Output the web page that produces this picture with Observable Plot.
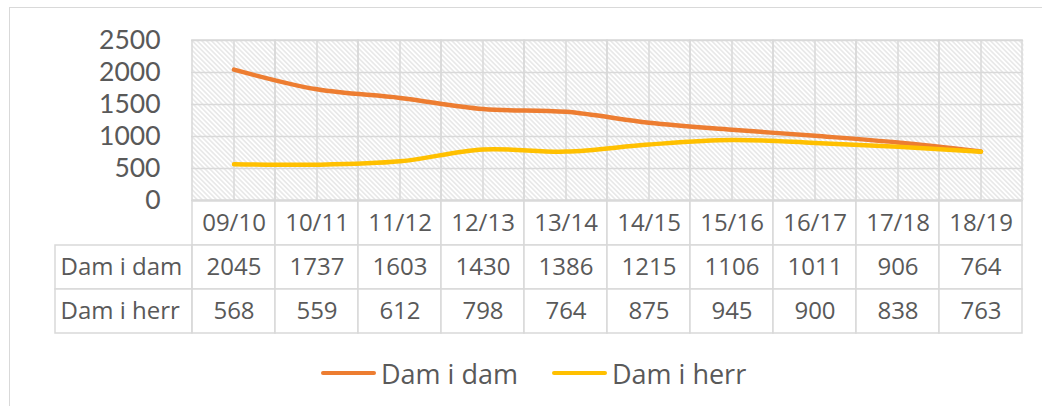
<!DOCTYPE html>
<html>
<head>
<meta charset="utf-8">
<script src="https://cdn.jsdelivr.net/npm/d3@7"></script>
<script src="https://cdn.jsdelivr.net/npm/@observablehq/plot@0.6"></script>
<style>
  html, body { margin: 0; padding: 0; background: #fff; }
  #wrap { position: relative; width: 1042px; height: 406px; overflow: hidden; font-family: "Open Sans", sans-serif; color: #595959; }
  #border { position: absolute; left: 9px; top: 7px; width: 1100px; height: 500px; border: 1.5px solid #d9d9d9; box-sizing: border-box; }
  #chart { position: absolute; left: 0; top: 0; }
  #table { position: absolute; left: 0; top: 199px; }
  #legend { position: absolute; left: 321px; top: 355px; height: 36px; display: flex; align-items: center; font-size: 27px; white-space: nowrap; }
  .sw { display: inline-block; width: 55px; height: 4.5px; border-radius: 2.5px; margin-right: 5px; }
  .item { display: flex; align-items: center; margin-right: 34px; }
</style>
</head>
<body>
<div id="wrap">
  <div id="border"></div>
  <div id="chart"></div>
  <div id="table"></div>
  <div id="legend"></div>
</div>
<script>
const categories = ["09/10", "10/11", "11/12", "12/13", "13/14", "14/15", "15/16", "16/17", "17/18", "18/19"];
const damIDam = [2045, 1737, 1603, 1430, 1386, 1215, 1106, 1011, 906, 764];
const damIHerr = [568, 559, 612, 798, 764, 875, 945, 900, 838, 763];
const seriesNames = ["Dam i dam", "Dam i herr"];
const seriesColors = ["#ED7D31", "#FFC000"];
const yTicks = [0, 500, 1000, 1500, 2000, 2500];

const W = 1042, ML = 191, MR = 19;
const grid = "#d9d9d9";
const textColor = "#595959";
const seriesValues = [damIDam, damIHerr];

const long = seriesNames.flatMap((s, k) =>
  categories.map((c, i) => ({ cat: c, series: s, value: seriesValues[k][i] }))
);

const chart = Plot.plot({
  width: W, height: 202,
  marginTop: 40, marginBottom: 2, marginLeft: ML, marginRight: MR,
  style: { fontFamily: "Open Sans", background: "transparent", overflow: "visible", color: textColor },
  x: { type: "band", domain: categories, padding: 0, axis: null },
  y: { domain: [0, 2500], axis: null },
  color: { domain: seriesNames, range: seriesColors },
  marks: [
    Plot.frame({ fill: "url(#hatch)", stroke: "none" }),
    Plot.cell(categories, { x: d => d, fill: "none", stroke: grid, strokeWidth: 1.5 }),
    Plot.ruleX(categories, { x: d => d, stroke: grid, strokeWidth: 1.5 }),
    Plot.ruleY(yTicks, { y: d => d, stroke: grid, strokeWidth: 1.5 }),
    Plot.axisY({ ticks: yTicks, tickSize: 0, tickPadding: 31, fontSize: 26.5, fontFamily: "Lato", fill: textColor, label: null, tickFormat: d => String(d) }),
    Plot.line(long, { x: "cat", y: "value", z: "series", stroke: "series", curve: "catmull-rom", strokeWidth: 4.5, strokeLinecap: "round", strokeLinejoin: "round" })
  ]
});

d3.select(chart).insert("defs", ":first-child").html(
  `<pattern id="hatch" patternUnits="userSpaceOnUse" width="3.4" height="3.4" patternTransform="rotate(45)">
     <rect width="3.4" height="3.4" fill="#ffffff"/>
     <line x1="0" y1="1.7" x2="3.4" y2="1.7" stroke="#d6d6d6" stroke-width="0.9"/>
   </pattern>`
);
document.getElementById("chart").appendChild(chart);

// data table
const rowKeys = ["header", ...seriesNames];
const headerCells = categories.map(c => ({ cat: c, row: "header", text: c }));
const valueCells = seriesNames.flatMap((s, k) =>
  categories.map((c, i) => ({ cat: c, row: s, text: String(seriesValues[k][i]) }))
);
const allCells = [...headerCells, ...valueCells];
const bw = (W - ML - MR) / categories.length;
const labelColWidth = 137;

const table = Plot.plot({
  width: W, height: 135,
  marginTop: 1, marginBottom: 1, marginLeft: ML, marginRight: MR,
  style: { fontFamily: "Open Sans", background: "transparent", overflow: "visible", color: textColor },
  x: { type: "band", domain: categories, padding: 0, axis: null },
  y: { type: "band", domain: rowKeys, padding: 0, axis: null },
  marks: [
    Plot.cell(allCells, { x: "cat", y: "row", fill: "white", stroke: grid, strokeWidth: 1.5 }),
    Plot.cell(seriesNames, { x: () => categories[0], y: d => d, insetLeft: -labelColWidth, insetRight: bw, fill: "white", stroke: grid, strokeWidth: 1.5 }),
    Plot.text(allCells, { x: "cat", y: "row", text: "text", fontSize: 24, fill: textColor }),
    Plot.text(seriesNames, { y: d => d, text: d => d, frameAnchor: "left", textAnchor: "start", dx: -131, fontSize: 24, fill: textColor })
  ]
});
document.getElementById("table").appendChild(table);

// legend
const legend = document.getElementById("legend");
seriesNames.forEach((s, k) => {
  const item = document.createElement("div");
  item.className = "item";
  const sw = document.createElement("span");
  sw.className = "sw";
  sw.style.background = seriesColors[k];
  const lab = document.createElement("span");
  lab.textContent = s;
  item.appendChild(sw);
  item.appendChild(lab);
  legend.appendChild(item);
});
</script>
</body>
</html>
